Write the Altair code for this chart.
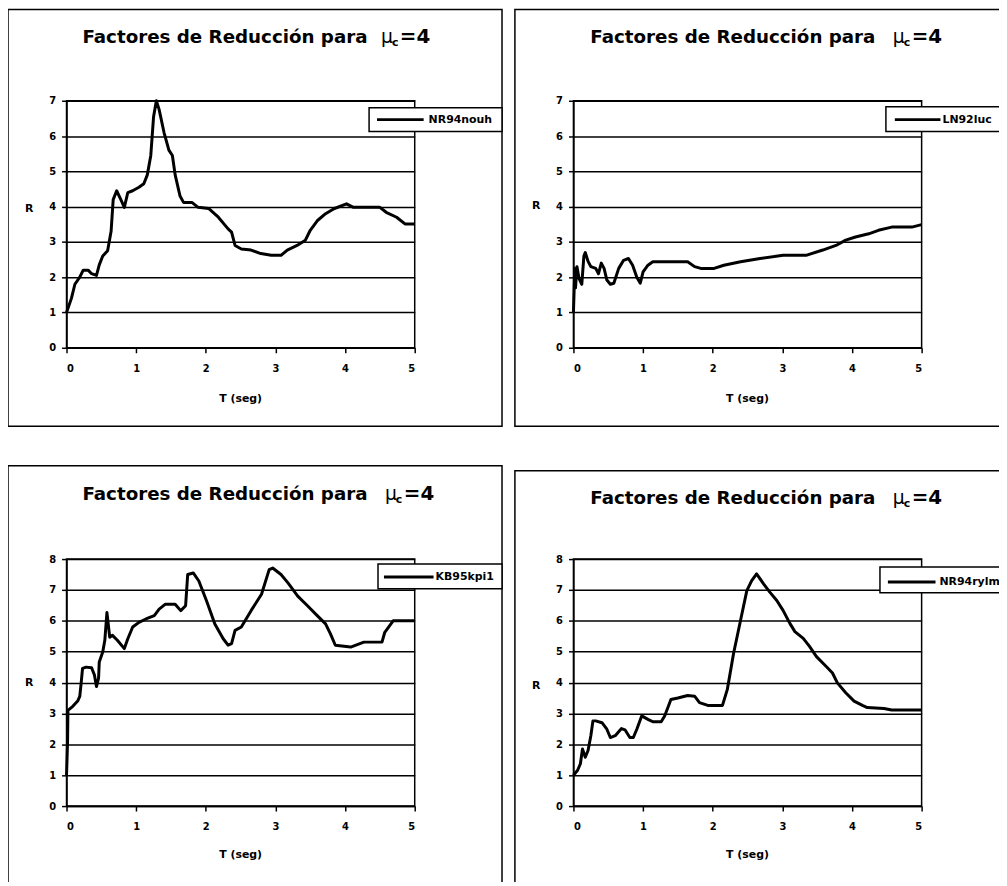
import altair as alt
import pandas as pd

# ---------------- data ----------------
T1 = [0.0, 0.07, 0.12, 0.19, 0.24, 0.31, 0.36, 0.43, 0.47, 0.52, 0.59, 0.64, 0.67, 0.72, 0.78, 0.83, 0.88,
      0.95, 1.04, 1.11, 1.16, 1.21, 1.25, 1.29, 1.33, 1.40, 1.47, 1.52, 1.56, 1.63, 1.68, 1.80, 1.89, 2.04,
      2.18, 2.32, 2.37, 2.42, 2.51, 2.65, 2.79, 2.94, 3.08, 3.17, 3.31, 3.43, 3.50, 3.60, 3.72, 3.84, 4.02,
      4.12, 4.50, 4.59, 4.74, 4.86, 5.0]
R1 = [1.0, 1.4, 1.8, 2.0, 2.2, 2.2, 2.1, 2.05, 2.35, 2.6, 2.75, 3.3, 4.2, 4.45, 4.2, 3.98, 4.4,
      4.45, 4.55, 4.65, 4.9, 5.45, 6.55, 7.0, 6.75, 6.1, 5.6, 5.45, 4.9, 4.3, 4.12, 4.12, 3.98, 3.95,
      3.7, 3.37, 3.28, 2.9, 2.8, 2.77, 2.67, 2.62, 2.62, 2.77, 2.9, 3.05, 3.33, 3.6, 3.8, 3.94, 4.08,
      3.98, 3.98, 3.84, 3.7, 3.51, 3.51]

T2 = [0.0, 0.02, 0.03, 0.05, 0.08, 0.12, 0.15, 0.17, 0.21, 0.25, 0.32, 0.36, 0.40, 0.44, 0.48, 0.53,
      0.58, 0.65, 0.72, 0.79, 0.85, 0.91, 0.96, 1.0, 1.07, 1.14, 1.26, 1.64, 1.74, 1.83, 2.02, 2.16,
      2.40, 2.68, 3.01, 3.34, 3.58, 3.77, 3.91, 4.05, 4.24, 4.38, 4.57, 4.86, 5.0]
R2 = [1.0, 2.25, 1.7, 2.3, 1.97, 1.8, 2.6, 2.7, 2.45, 2.3, 2.25, 2.1, 2.4, 2.25, 1.92, 1.8,
      1.83, 2.25, 2.48, 2.53, 2.34, 2.0, 1.83, 2.15, 2.34, 2.44, 2.44, 2.44, 2.3, 2.25, 2.25, 2.34,
      2.44, 2.53, 2.62, 2.62, 2.77, 2.9, 3.05, 3.14, 3.23, 3.33, 3.42, 3.42, 3.49]

T3 = [0.0, 0.015, 0.02, 0.09, 0.16, 0.19, 0.21, 0.23, 0.28, 0.36, 0.40, 0.43, 0.46, 0.47, 0.52, 0.55,
      0.58, 0.62, 0.66, 0.73, 0.83, 0.88, 0.95, 1.04, 1.14, 1.26, 1.33, 1.42, 1.56, 1.64, 1.71, 1.74,
      1.82, 1.90, 2.01, 2.13, 2.25, 2.32, 2.37, 2.42, 2.51, 2.65, 2.80, 2.91, 2.96, 3.08, 3.18, 3.32,
      3.46, 3.60, 3.72, 3.79, 3.86, 4.08, 4.27, 4.53, 4.57, 4.69, 5.0]
R3 = [1.0, 2.1, 3.1, 3.23, 3.4, 3.55, 3.98, 4.46, 4.5, 4.48, 4.25, 3.87, 4.14, 4.67, 4.99, 5.37,
      6.27, 5.47, 5.53, 5.37, 5.1, 5.42, 5.8, 5.95, 6.06, 6.17, 6.38, 6.54, 6.54, 6.33, 6.49, 7.5,
      7.55, 7.29, 6.65, 5.9, 5.42, 5.21, 5.26, 5.69, 5.8, 6.33, 6.86, 7.66, 7.71, 7.5, 7.23, 6.8,
      6.49, 6.17, 5.9, 5.58, 5.21, 5.15, 5.31, 5.31, 5.63, 6.0, 6.0]

T4 = [0.0, 0.06, 0.10, 0.13, 0.17, 0.21, 0.25, 0.28, 0.32, 0.41, 0.48, 0.53, 0.60, 0.69, 0.74, 0.81,
      0.86, 0.91, 0.98, 1.07, 1.14, 1.26, 1.31, 1.40, 1.50, 1.64, 1.74, 1.81, 1.93, 2.14, 2.21, 2.30,
      2.40, 2.49, 2.56, 2.63, 2.73, 2.82, 2.92, 3.01, 3.11, 3.18, 3.30, 3.39, 3.49, 3.63, 3.72, 3.79,
      3.91, 4.03, 4.15, 4.22, 4.46, 4.57, 5.0]
R4 = [1.0, 1.16, 1.37, 1.85, 1.58, 1.8, 2.28, 2.76, 2.76, 2.7, 2.49, 2.22, 2.28, 2.51, 2.47, 2.22,
      2.22, 2.49, 2.92, 2.81, 2.73, 2.73, 2.92, 3.45, 3.5, 3.58, 3.56, 3.35, 3.26, 3.26, 3.78, 4.95,
      6.02, 6.98, 7.3, 7.52, 7.2, 6.93, 6.66, 6.34, 5.91, 5.65, 5.43, 5.17, 4.84, 4.52, 4.31, 3.99,
      3.67, 3.4, 3.26, 3.19, 3.16, 3.11, 3.11]

SERIES_NAMES = ["NR94nouh", "LN92luc", "KB95kpi1", "NR94rylm"]
Y_MAX = [7, 7, 8, 8]
X_TICKS = [0, 1, 2, 3, 4, 5]
TITLE_MAIN = "Factores de Reducción para"
X_TITLE = "T (seg)"
Y_TITLE = "R"

W = 351
H = 249
BOLD = "DejaVu Sans"

# per-panel decoration layout (pixel offsets relative to the plot area)
LAYOUT = [
    dict(frame=(-59, 439, -92, 328), box=(305, 439, 7, 31), line=(313, 360, 19), text=365,
         title=(16, 317, 328, 336, -58), ytitle=109, xtitle=51),
    dict(frame=(-59, 470, -92, 328), box=(315, 470, 6, 31), line=(324, 370, 19), text=372,
         title=(17, 322, 333, 341, -58), ytitle=106, xtitle=51),
    dict(frame=(-59, 439, -94, 330), box=(314, 439, 5, 30), line=(320, 370, 18), text=372,
         title=(16, 321, 332, 340, -60), ytitle=124, xtitle=49),
    dict(frame=(-59, 470, -89, 330), box=(309, 470, 8, 34), line=(317, 365, 23), text=369,
         title=(17, 322, 333, 341, -56), ytitle=127, xtitle=49),
]

one = pd.DataFrame({"k": [0]})


def panel(i, T, R):
    L = LAYOUT[i]
    df = pd.DataFrame({"T": T, "R": R, "i": range(len(T))})
    ymax = Y_MAX[i]
    line = alt.Chart(df).mark_line(color="black", strokeWidth=3, strokeJoin="round").encode(
        x=alt.X("T:Q", scale=alt.Scale(domain=[0, 5], nice=False),
                axis=alt.Axis(values=X_TICKS, grid=False, title=X_TITLE, titleX=175,
                              titleY=L["xtitle"], titleBaseline="middle", titleAlign="center",
                              labelPadding=11)),
        y=alt.Y("R:Q", scale=alt.Scale(domain=[0, ymax], nice=False),
                axis=alt.Axis(values=list(range(ymax + 1)), grid=True, title=Y_TITLE,
                              titleAngle=0, titleX=-38, titleY=L["ytitle"],
                              titleBaseline="middle", titleAlign="center", labelPadding=6)),
        order="i:Q",
    )
    fx1, fx2, fy1, fy2 = L["frame"]
    frame = alt.Chart(one).mark_rect(filled=False, stroke="black", strokeWidth=1.5).encode(
        x=alt.value(fx1), x2=alt.value(fx2), y=alt.value(fy1), y2=alt.value(fy2))
    bx1, bx2, by1, by2 = L["box"]
    box = alt.Chart(one).mark_rect(fill="white", stroke="black", strokeWidth=1.5).encode(
        x=alt.value(bx1), x2=alt.value(bx2), y=alt.value(by1), y2=alt.value(by2))
    lx1, lx2, ly = L["line"]
    sample = alt.Chart(one).mark_rule(color="black", strokeWidth=3).encode(
        x=alt.value(lx1), x2=alt.value(lx2), y=alt.value(ly))
    label = alt.Chart(one).mark_text(font=BOLD, fontWeight="bold", fontSize=11, align="left",
                                     baseline="middle", color="black").encode(
        x=alt.value(L["text"]), y=alt.value(ly), text=alt.value(SERIES_NAMES[i]))
    tx, mux, cx, eqx, ty = L["title"]
    t_main = alt.Chart(one).mark_text(font=BOLD, fontWeight="bold", fontSize=18.4, align="left",
                                      baseline="alphabetic", color="black").encode(
        x=alt.value(tx), y=alt.value(ty), text=alt.value(TITLE_MAIN))
    t_mu = alt.Chart(one).mark_text(font=BOLD, fontSize=19, align="left",
                                    baseline="alphabetic", color="black").encode(
        x=alt.value(mux), y=alt.value(ty), text=alt.value("μ"))
    t_c = alt.Chart(one).mark_text(font=BOLD, fontWeight="bold", fontSize=11, align="left",
                                   baseline="alphabetic", color="black").encode(
        x=alt.value(cx), y=alt.value(ty + 3), text=alt.value("c"))
    t_eq = alt.Chart(one).mark_text(font=BOLD, fontWeight="bold", fontSize=20, align="left",
                                    baseline="alphabetic", color="black").encode(
        x=alt.value(eqx), y=alt.value(ty), text=alt.value("=4"))
    return alt.layer(frame, line, box, sample, label, t_main, t_mu, t_c, t_eq).properties(
        width=W, height=H)


p1 = panel(0, T1, R1)
p2 = panel(1, T2, R2)
p3 = panel(2, T3, R3)
p4 = panel(3, T4, R4)

chart = alt.concat(p1, p2, p3, p4, columns=2, spacing={"row": 213, "column": 160},
                   bounds="flush").properties(
    autosize=alt.AutoSizeParams(type="none"),
    padding={"left": 59, "top": 90, "right": 940, "bottom": 784},
).configure(background="white").configure_view(
    stroke="black", strokeWidth=1.5
).configure_axis(
    domainColor="black", domainWidth=1.5, tickColor="black", tickWidth=1.5, tickSize=5,
    gridColor="black", gridWidth=1.5, gridOpacity=1,
    labelFont=BOLD, labelFontWeight="bold", labelFontSize=10, labelColor="black",
    titleFont=BOLD, titleFontWeight="bold", titleFontSize=11, titleColor="black",
)

chart.save("out.html", embed_options={"renderer": "svg", "actions": False})
